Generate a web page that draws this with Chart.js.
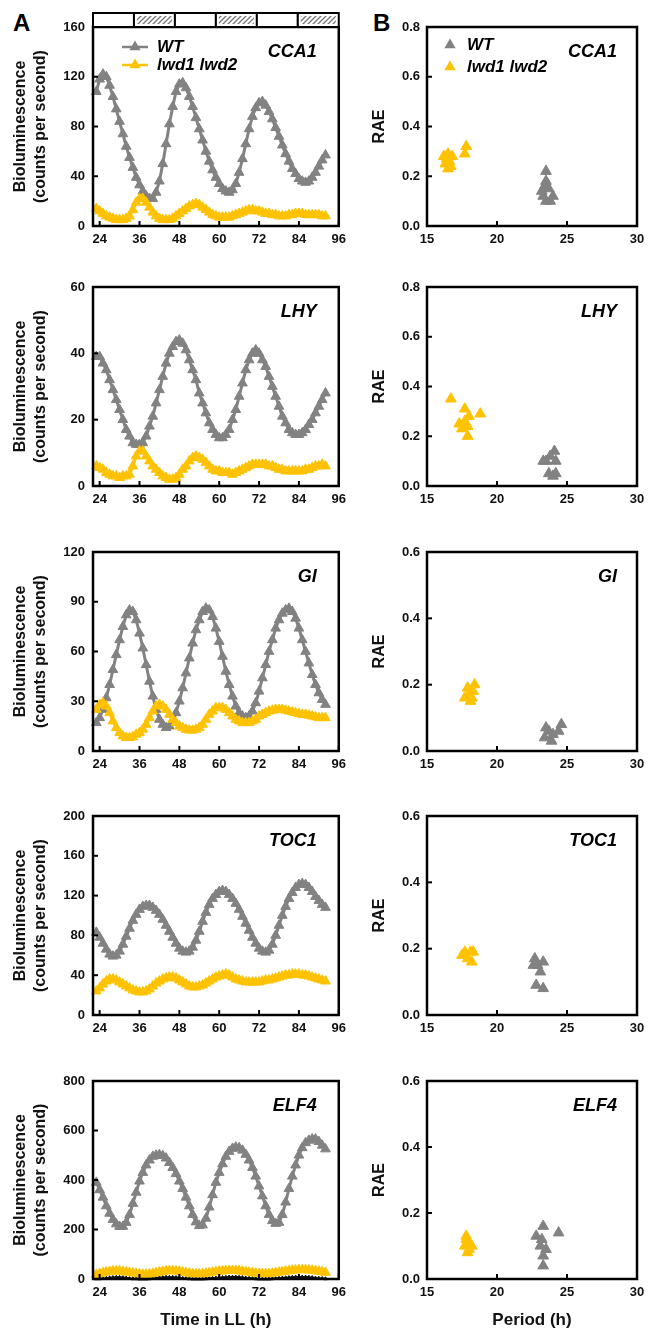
<!DOCTYPE html>
<html>
<head>
<meta charset="utf-8">
<script src="https://cdn.jsdelivr.net/npm/chart.js@4/dist/chart.umd.min.js"></script>
<style>
  body { margin: 0; background: #fff; width: 663px; height: 1333px; position: relative; overflow: hidden; }
  .panel { position: absolute; }
  .letter { position: absolute; font: bold 24px "Liberation Sans", Arial, sans-serif; line-height: 1; color: #000; }
</style>
</head>
<body>
<div class="letter" style="left:13px;top:11px">A</div>
<div class="letter" style="left:373px;top:11px">B</div>
<script>
// ---- data ----
const hours = [23,24,25,26,27,28,29,30,31,32,33,34,35,36,37,38,39,40,41,42,
  43,44,45,46,47,48,49,50,51,52,53,54,55,56,57,58,59,60,61,62,
  63,64,65,66,67,68,69,70,71,72,73,74,75,76,77,78,79,80,81,82,
  83,84,85,86,87,88,89,90,91,92];

const cca1WT = [108,118,122,120,113,104,94,84,74,64, 55,47,39,33,28,24,22,22,27,36,
  50,66,82,96,108,114,115,111,104,96, 87,78,69,60,52,45,39,34,30,28,
  27,29,34,43,54,66,78,88,95,99, 100,97,92,86,79,72,65,58,52,46,
  42,38,36,35,36,39,43,48,53,57];
const cca1Lwd = [14,12,10,8,7,6,5,5,5,6, 8,13,19,22,22,19,15,11,8,6,
  5,5,5,6,8,10,12,14,16,17, 18,17,15,13,11,9,8,7,7,7,
  7,8,9,10,11,12,13,13,12,12, 11,10,10,9,9,8,8,8,9,9,
  10,10,10,9,9,9,9,9,8,8];

const lhyWT = [39,39,37,35,32,29,26,23,20,17, 15,13,12.5,12.5,13,15,18,21,25,29,
  33,37,40,42,43.5,44,43,41,38,35, 32,28,25,22,19,17,15.5,14.5,14.5,15.5,
  17,20,23,27,31,35,38,40,41,40, 38,36,33,30,27,24,21,19,17,16,
  15.5,15.5,16,17,18.5,20,22,24,26,28];
const lhyLwd = [6,5.5,5,4,3.5,3,3,2.5,3,3, 3.5,6,9,10.5,10.5,9,7.5,6,5,4,
  3,2.5,2,2,2.5,3.5,5,6,7.5,8.5, 9,8.5,8,7,6,5,4.5,4.5,4,4,
  4,3.5,4,4.5,5,5.5,6,6.5,6.5,6.5, 6.5,6.5,6,6,5.5,5,5,4.5,4.5,4.5,
  4.5,4.5,4.5,5,5,5.5,6,6,6.5,6];

const giWT = [17,20,25,32,40,49,58,67,75,82, 85,84,79,71,62,52,42,33,25,19,
  16,14,15,18,23,30,38,47,56,65, 73,79,84,86,85,81,74,66,57,48,
  40,33,27,23,21,20,21,24,29,36, 44,52,60,67,74,79,83,85,86,84,
  80,74,67,60,53,46,40,35,31,28];
const giLwd = [25,28,29,27,23,18,14,11,9,8, 8,8.5,10,11,13,16,20,24,27,28,
  27,25,22,19,17,15,14,13,12.5,12.5, 13,14,16,19,22,24,26,26,26,25,
  23,21,19,18,17,17,17,18,19,21, 22,23,24,24.5,25,25,25,24.5,24,23.5,
  23,22.5,22,22,21.5,21,20.5,20,20,20];

const toc1WT = [83,78,72,66,61,59,60,64,71,79, 87,95,101,106,109,110,110,108,105,101,
  96,90,84,78,72,67,64,63,64,68, 75,84,94,103,111,117,121,124,125,124,
  121,117,112,106,99,92,85,78,72,67, 64,63,65,71,80,90,100,109,117,123,
  128,131,132,131,128,124,119,115,111,108];
const toc1Lwd = [24,27,31,34,36,36,35,33,31,29, 27,25,24,23,23,24,26,29,32,34,
  36,37,38,38,37,35,33,31,29,28, 28,29,30,32,34,36,38,39,40,41,
  40,38,36,35,34,33,33,33,33,33, 34,35,35,36,37,38,39,40,40,41,
  41,41,40,40,39,38,37,36,35,34];

const elf4WT = [390,360,330,295,265,240,222,212,212,228, 260,305,350,395,430,460,480,495,500,502,
  498,488,470,450,425,395,365,330,295,260, 230,215,218,245,290,340,390,430,465,495,
  515,527,532,530,520,503,480,450,415,375, 335,295,260,235,224,228,260,310,365,415,
  460,500,530,550,560,565,565,555,540,525];
const elf4Lwd = [18,21,25,28,30,32,32,32,30,28, 26,24,22,20,19,19,20,22,25,28,
  30,32,33,33,32,30,28,25,23,21, 20,20,21,23,25,27,29,31,32,33,
  34,34,34,33,31,29,27,25,23,22, 21,21,22,23,25,27,29,31,33,35,
  36,37,37,37,36,35,33,31,29,26];
const elf4Bg = [1,1,2,3,5,6,7,7,6,4, 2,1,1,0,0,0,1,2,3,5,
  6,7,7,7,6,5,3,2,1,0, 0,0,0,1,2,3,4,5,6,7,
  8,8,8,7,6,4,3,2,1,0, 0,0,0,1,2,3,4,5,6,7,
  8,8,8,8,7,6,4,3,2,1];

// period (h) / RAE per seedling
const cca1PerWT = [23.5,23.5,23.2,23.7,24.0,23.5,23.8,23.3,23.4];
const cca1RaeWT = [0.22,0.18,0.14,0.15,0.12,0.10,0.10,0.12,0.16];
const cca1PerLwd = [16.2,16.4,16.5,16.6,16.3,16.7,16.5,16.8,17.7,17.8];
const cca1RaeLwd = [0.28,0.27,0.29,0.26,0.25,0.24,0.23,0.28,0.29,0.32];

const lhyPerWT = [23.5,24.1,23.8,24.2,23.3,23.7,24.2,24.0];
const lhyRaeWT = [0.10,0.14,0.12,0.10,0.10,0.05,0.05,0.04];
const lhyPerLwd = [16.7,17.7,18.0,18.8,17.3,17.7,17.5,17.9,17.9];
const lhyRaeLwd = [0.35,0.31,0.28,0.29,0.25,0.26,0.23,0.24,0.20];

const giPerWT = [23.7,23.4,23.9,24.6,24.4,23.5,24.0];
const giRaeWT = [0.06,0.04,0.03,0.08,0.06,0.07,0.05];
const giPerLwd = [18.0,18.4,18.2,17.7,18.3,18.1,17.9];
const giRaeLwd = [0.17,0.20,0.16,0.16,0.18,0.15,0.19];

const toc1PerWT = [22.7,22.9,23.3,22.6,23.1,22.8,23.3];
const toc1RaeWT = [0.17,0.15,0.16,0.15,0.13,0.09,0.08];
const toc1PerLwd = [17.7,18.1,17.9,18.2,17.5,18.3];
const toc1RaeLwd = [0.19,0.19,0.17,0.16,0.18,0.19];

const elf4PerWT = [23.3,24.4,22.8,23.2,23.5,23.3,23.3,23.1];
const elf4RaeWT = [0.16,0.14,0.13,0.12,0.09,0.07,0.04,0.10];
const elf4PerLwd = [17.8,17.9,17.7,18.2,17.9,17.8,18.0];
const elf4RaeLwd = [0.13,0.11,0.10,0.10,0.08,0.12,0.09];

// ticks
const timeTicks = [24,36,48,60,72,84,96];
const periodTicks = [15,20,25,30];
const cca1Ticks = [0,40,80,120,160];
const lhyTicks = [0,20,40,60];
const giTicks = [0,30,60,90,120];
const toc1Ticks = [0,40,80,120,160,200];
const elf4Ticks = [0,200,400,600,800];
const raeTicksHigh = [0,0.2,0.4,0.6,0.8];
const raeTicksLow = [0,0.2,0.4,0.6];

const genes = ['CCA1','LHY','GI','TOC1','ELF4'];
const WT_LABEL = 'WT';
const LWD_LABEL = 'lwd1 lwd2';

// ---- styling / layout ----
const GRAY = '#828282';
const GOLD = '#FFC200';
const FONT = "'Liberation Sans', Arial, sans-serif";
const rowsPlot = [[27,226],[287,486],[552,751],[816,1015],[1081,1279]];

Chart.defaults.font.family = FONT;
Chart.defaults.color = '#111';
Chart.defaults.animation = false;

function pts(xs, ys) { return xs.map((x, i) => ({ x: x, y: ys[i] })); }

function addCanvas(left, top, width, height) {
  const div = document.createElement('div');
  div.className = 'panel';
  div.style.cssText = `left:${left}px;top:${top}px;width:${width}px;height:${height}px`;
  const c = document.createElement('canvas');
  div.appendChild(c);
  document.body.appendChild(div);
  return c;
}

function tri(ctx, x, y, r) {
  ctx.beginPath();
  for (let k = 0; k < 3; k++) {
    const a = k * 2 * Math.PI / 3;
    const px = x + Math.sin(a) * r, py = y - Math.cos(a) * r;
    if (k === 0) ctx.moveTo(px, py); else ctx.lineTo(px, py);
  }
  ctx.closePath();
  ctx.fill();
}

// box around the plot and short inward ticks
const framePlugin = {
  id: 'frame',
  afterDraw(chart) {
    const { ctx, chartArea: a, scales } = chart;
    ctx.save();
    ctx.strokeStyle = '#000';
    ctx.lineWidth = 2;
    scales.x.ticks.forEach(t => {
      const px = scales.x.getPixelForValue(t.value);
      ctx.beginPath(); ctx.moveTo(px, a.bottom); ctx.lineTo(px, a.bottom - 5); ctx.stroke();
    });
    scales.y.ticks.forEach(t => {
      const py = scales.y.getPixelForValue(t.value);
      ctx.beginPath(); ctx.moveTo(a.left, py); ctx.lineTo(a.left + 5, py); ctx.stroke();
    });
    ctx.lineWidth = 2.5;
    ctx.strokeRect(a.left, a.top, a.right - a.left, a.bottom - a.top);
    ctx.restore();
  }
};

// gene name and the in-plot legend
const textPlugin = {
  id: 'panelText',
  afterDraw(chart, args, opts) {
    const { ctx, chartArea: a } = chart;
    ctx.save();
    ctx.fillStyle = '#000';
    ctx.font = `italic bold 18px ${FONT}`;
    ctx.textAlign = 'right';
    ctx.textBaseline = 'middle';
    ctx.fillText(opts.gene, a.right - opts.geneDx, a.top + 25);
    if (opts.legend) {
      const items = chart.data.datasets.filter(d => d.inLegend);
      items.forEach((d, i) => {
        const y = a.top + opts.legendY[i];
        ctx.fillStyle = d.borderColor;
        ctx.strokeStyle = d.borderColor;
        if (opts.lineSample) {
          ctx.lineWidth = 2.5;
          ctx.beginPath(); ctx.moveTo(a.left + 29, y); ctx.lineTo(a.left + 55, y); ctx.stroke();
          tri(ctx, a.left + 42, y, 6.5);
        } else {
          tri(ctx, a.left + 23, y, 6.5);
        }
        ctx.fillStyle = '#000';
        ctx.font = `italic bold 17px ${FONT}`;
        ctx.textAlign = 'left';
        ctx.fillText(d.label, a.left + opts.textDx, y);
      });
    }
    ctx.restore();
  }
};

// light / dark bar above the first time course
const barPlugin = {
  id: 'lightBar',
  afterDraw(chart) {
    const { ctx, chartArea: a } = chart;
    const pc = document.createElement('canvas');
    pc.width = 5; pc.height = 5;
    const p = pc.getContext('2d');
    p.fillStyle = '#fff'; p.fillRect(0, 0, 5, 5);
    p.strokeStyle = '#777'; p.lineWidth = 1.3;
    p.beginPath(); p.moveTo(0, 5); p.lineTo(5, 0); p.moveTo(-1, 1); p.lineTo(1, -1); p.moveTo(4, 6); p.lineTo(6, 4); p.stroke();
    const pattern = ctx.createPattern(pc, 'repeat');
    const top = a.top - 14, h = 14;
    const w = (a.right - a.left) / 6;
    ctx.save();
    for (let i = 0; i < 6; i++) {
      const x = a.left + i * w;
      ctx.fillStyle = '#fff';
      ctx.fillRect(x, top, w, h);
      if (i % 2 === 1) { ctx.fillStyle = pattern; ctx.fillRect(x + 3, top + 3, w - 6, h - 6); }
      ctx.strokeStyle = '#000'; ctx.lineWidth = 2;
      ctx.strokeRect(x, top, w, h);
    }
    ctx.restore();
  }
};

function tickList(list) { return s => { s.ticks = list.map(v => ({ value: v })); }; }

function timeChart(row, yTicks, wt, lwd, bg) {
  const [pt, pb] = rowsPlot[row];
  const last = row === 4;
  const xH = last ? 52 : 26;
  const canvas = addCanvas(0, pt - 30, 352, 30 + (pb - pt) + xH);
  const sets = [
    { label: WT_LABEL, values: wt, color: GRAY, order: 1, inLegend: true, r: 5.6 },
    { label: LWD_LABEL, values: lwd, color: GOLD, order: 0, inLegend: true, r: 5.6 }
  ];
  if (bg) sets.push({ label: 'background', values: bg, color: '#111', order: 2, inLegend: false, r: 2 });
  new Chart(canvas, {
    type: 'line',
    data: {
      datasets: sets.map(s => ({
        label: s.label, data: pts(hours, s.values), inLegend: s.inLegend, order: s.order,
        borderColor: s.color, backgroundColor: s.color,
        pointBorderColor: s.color, pointBackgroundColor: s.color,
        pointStyle: 'triangle', pointRadius: s.r, pointBorderWidth: 1,
        borderWidth: s.inLegend ? 3 : 2, tension: 0, clip: false
      }))
    },
    options: {
      responsive: true, maintainAspectRatio: false,
      layout: { padding: { left: 4, right: 11, top: 30, bottom: 0 } },
      plugins: {
        legend: { display: false }, tooltip: { enabled: false },
        panelText: { gene: genes[row], geneDx: 22, legend: row === 0, lineSample: true, legendY: [20, 38], textDx: 64 }
      },
      scales: {
        x: {
          type: 'linear', min: 22, max: 96,
          afterBuildTicks: tickList(timeTicks),
          afterFit: s => { s.height = xH; },
          grid: { display: false, drawTicks: false }, border: { display: false },
          ticks: { font: { size: 13, weight: 'bold' }, padding: 6, maxRotation: 0, autoSkip: false, color: '#111' },
          title: { display: last, text: 'Time in LL (h)', font: { size: 17, weight: 'bold' }, padding: { top: 0, bottom: 0 }, color: '#111' }
        },
        y: {
          type: 'linear', min: 0, max: yTicks[yTicks.length - 1],
          afterBuildTicks: tickList(yTicks),
          afterFit: s => { s.width = 89; },
          grid: { display: false, drawTicks: false }, border: { display: false },
          ticks: { font: { size: 13, weight: 'bold' }, padding: 8, color: '#111' },
          title: { display: true, text: ['Bioluminescence', '(counts per second)'], font: { size: 16, weight: 'bold', lineHeight: 1.25 }, padding: { top: 7, bottom: 0 }, color: '#111' }
        }
      }
    },
    plugins: row === 0 ? [framePlugin, textPlugin, barPlugin] : [framePlugin, textPlugin]
  });
}

function raeChart(row, yTicks, perWT, raeWT, perLwd, raeLwd) {
  const [pt, pb] = rowsPlot[row];
  const last = row === 4;
  const xH = last ? 52 : 26;
  const canvas = addCanvas(355, pt - 30, 300, 30 + (pb - pt) + xH);
  const mk = (label, xs, ys, color, order) => ({
    label: label, data: pts(xs, ys), inLegend: true, order: order,
    borderColor: color, backgroundColor: color, pointBorderColor: color, pointBackgroundColor: color,
    pointStyle: 'triangle', pointRadius: 6.2, pointBorderWidth: 1, showLine: false, clip: false
  });
  new Chart(canvas, {
    type: 'scatter',
    data: { datasets: [mk(WT_LABEL, perWT, raeWT, GRAY, 1), mk(LWD_LABEL, perLwd, raeLwd, GOLD, 0)] },
    options: {
      responsive: true, maintainAspectRatio: false,
      layout: { padding: { left: 0, right: 18, top: 30, bottom: 0 } },
      plugins: {
        legend: { display: false }, tooltip: { enabled: false },
        panelText: { gene: genes[row], geneDx: 20, legend: row === 0, lineSample: false, legendY: [18, 40], textDx: 40 }
      },
      scales: {
        x: {
          type: 'linear', min: 15, max: 30,
          afterBuildTicks: tickList(periodTicks),
          afterFit: s => { s.height = xH; },
          grid: { display: false, drawTicks: false }, border: { display: false },
          ticks: { font: { size: 13, weight: 'bold' }, padding: 6, maxRotation: 0, autoSkip: false, color: '#111' },
          title: { display: last, text: 'Period (h)', font: { size: 17, weight: 'bold' }, padding: { top: 0, bottom: 0 }, color: '#111' }
        },
        y: {
          type: 'linear', min: 0, max: yTicks[yTicks.length - 1],
          afterBuildTicks: tickList(yTicks),
          afterFit: s => { s.width = 72; },
          grid: { display: false, drawTicks: false }, border: { display: false },
          ticks: { font: { size: 13, weight: 'bold' }, padding: 7, color: '#111', callback: v => v.toFixed(1) },
          title: { display: true, text: 'RAE', font: { size: 16, weight: 'bold' }, padding: { top: 15, bottom: 0 }, color: '#111' }
        }
      }
    },
    plugins: [framePlugin, textPlugin]
  });
}

timeChart(0, cca1Ticks, cca1WT, cca1Lwd);
timeChart(1, lhyTicks, lhyWT, lhyLwd);
timeChart(2, giTicks, giWT, giLwd);
timeChart(3, toc1Ticks, toc1WT, toc1Lwd);
timeChart(4, elf4Ticks, elf4WT, elf4Lwd, elf4Bg);

raeChart(0, raeTicksHigh, cca1PerWT, cca1RaeWT, cca1PerLwd, cca1RaeLwd);
raeChart(1, raeTicksHigh, lhyPerWT, lhyRaeWT, lhyPerLwd, lhyRaeLwd);
raeChart(2, raeTicksLow, giPerWT, giRaeWT, giPerLwd, giRaeLwd);
raeChart(3, raeTicksLow, toc1PerWT, toc1RaeWT, toc1PerLwd, toc1RaeLwd);
raeChart(4, raeTicksLow, elf4PerWT, elf4RaeWT, elf4PerLwd, elf4RaeLwd);
</script>
</body>
</html>
